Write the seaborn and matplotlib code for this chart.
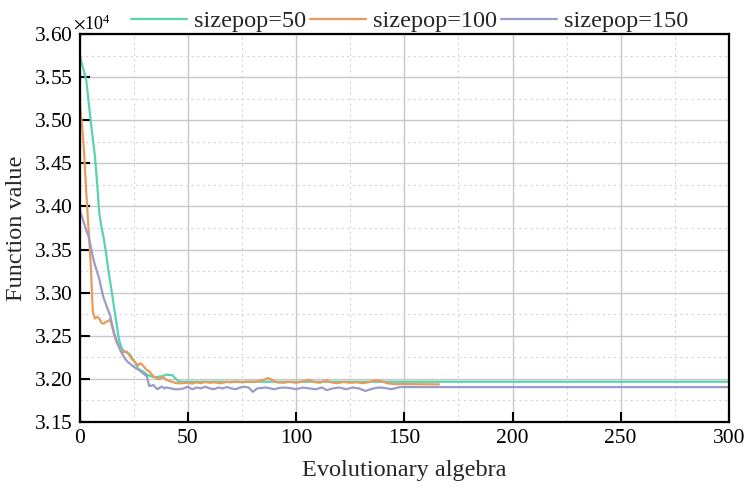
import matplotlib
matplotlib.use("Agg")
import matplotlib.pyplot as plt
from matplotlib.ticker import MultipleLocator, ScalarFormatter
import pandas as pd
import seaborn as sns

# sizepop=50
gen_50 = list(range(0, 48)) + [300]
val_50 = [35750, 35650, 35560, 35460, 35230, 35000, 34790, 34580, 34270, 33920,
          33760, 33640, 33480, 33300, 33130, 32970, 32800, 32640, 32470, 32380,
          32330, 32310, 32300, 32290, 32250, 32210, 32170, 32120, 32100, 32090,
          32070, 32050, 32040, 32030, 32020, 32020, 32020, 32030, 32030, 32040,
          32050, 32045, 32045, 32040, 32010, 31985, 31970, 31967, 31967]

# sizepop=100
gen_100 = list(range(0, 46)) + [47, 50, 52, 54, 56, 58, 60, 62, 65, 68, 70, 72,
                                75, 78, 80, 83, 85, 87, 89, 91, 94, 97, 100, 103,
                                106, 108, 111, 114, 116, 119, 122, 125, 128, 131,
                                134, 137, 140, 142, 145, 166]
val_100 = [35170, 34950, 34620, 34150, 33750, 33350, 32780, 32700, 32720, 32700,
           32650, 32640, 32660, 32670, 32690, 32600, 32500, 32430, 32380, 32320,
           32310, 32320, 32310, 32270, 32230, 32210, 32180, 32160, 32180, 32160,
           32130, 32100, 32090, 32060, 32030, 32020, 32000, 32000, 32020, 32010,
           31990, 31980, 31970, 31965, 31955, 31950,
           31950, 31955, 31945, 31960, 31950, 31965, 31955, 31960, 31950, 31965,
           31960, 31970, 31960, 31970, 31965, 31975, 31990, 32010, 31985, 31960,
           31955, 31965, 31955, 31970, 31990, 31965, 31955, 31985, 31960, 31950,
           31965, 31955, 31960, 31950, 31965, 31985, 31970, 31950, 31940, 31937]

# sizepop=150
gen_150 = list(range(0, 41)) + [42, 44, 46, 48, 50, 52, 54, 56, 58, 60, 62, 64,
                                66, 68, 70, 72, 74, 76, 78, 80, 82, 84, 86, 88,
                                90, 92, 95, 98, 100, 103, 106, 109, 112, 114, 117,
                                120, 123, 126, 129, 132, 135, 138, 141, 144, 148, 300]
val_150 = [33950, 33880, 33800, 33720, 33660, 33540, 33420, 33320, 33240, 33160,
           33040, 32940, 32870, 32800, 32740, 32620, 32520, 32440, 32380, 32320,
           32270, 32230, 32200, 32180, 32160, 32140, 32120, 32110, 32090, 32070,
           32050, 32030, 31920, 31920, 31930, 31900, 31880, 31900, 31910, 31890,
           31900,
           31890, 31880, 31880, 31890, 31910, 31880, 31900, 31890, 31910, 31890,
           31880, 31900, 31890, 31905, 31890, 31880, 31900, 31910, 31900, 31850,
           31890, 31895, 31900, 31890, 31880, 31895, 31900, 31890, 31880, 31900,
           31890, 31880, 31900, 31870, 31890, 31900, 31880, 31900, 31890, 31860,
           31885, 31900, 31895, 31880, 31905, 31905]

labels = ["sizepop=50", "sizepop=100", "sizepop=150"]
colors = ["#58d3b0", "#e99a5c", "#9b9bc9"]

frames = []
for lab, g, v in zip(labels, [gen_50, gen_100, gen_150], [val_50, val_100, val_150]):
    frames.append(pd.DataFrame({"gen": g, "value": v, "series": lab}))
df = pd.concat(frames, ignore_index=True)

sns.set_theme(style="ticks")
plt.rcParams["font.family"] = ["Liberation Serif", "DejaVu Serif"]
plt.rcParams["mathtext.fontset"] = "stix"

fig = plt.figure(figsize=(7.46, 4.93), dpi=100)
ax = fig.add_axes([0.107, 0.144, 0.87, 0.787])

sns.lineplot(data=df, x="gen", y="value", hue="series", hue_order=labels,
             palette=dict(zip(labels, colors)), estimator=None, sort=False,
             linewidth=1.6, ax=ax)

ax.set_xlim(0, 300)
ax.set_ylim(31500, 36000)
ax.xaxis.set_major_locator(MultipleLocator(50))
ax.xaxis.set_minor_locator(MultipleLocator(25))
ax.yaxis.set_major_locator(MultipleLocator(500))
ax.yaxis.set_minor_locator(MultipleLocator(250))

fmt = ScalarFormatter(useMathText=True)
fmt.set_powerlimits((4, 4))
ax.yaxis.set_major_formatter(fmt)
ax.yaxis.get_offset_text().set_fontsize(13)
ax.yaxis.get_offset_text().set_x(-0.01)

ax.grid(which="major", color="#c8c8c8", linewidth=1.0, linestyle="-")
ax.grid(which="minor", color="#d4d4d4", linewidth=0.8, linestyle=(0, (2, 3)))
ax.set_axisbelow(True)

for sp in ax.spines.values():
    sp.set_color("black")
    sp.set_linewidth(1.6)

ax.tick_params(which="major", direction="in", length=7, width=1.5,
               labelsize=15.5, pad=5, colors="black")
ax.tick_params(which="minor", length=0)

ax.set_xlabel("Evolutionary algebra", fontsize=17.5, labelpad=9)
ax.set_ylabel("Function value", fontsize=17.5, labelpad=5)

ax.legend(loc="lower center", bbox_to_anchor=(0.508, 1.005), ncol=3, frameon=False,
          fontsize=17.5, handlelength=2.3, handletextpad=0.3, columnspacing=0.15,
          borderpad=0, borderaxespad=0)

fig.savefig("out.png", dpi=100)
